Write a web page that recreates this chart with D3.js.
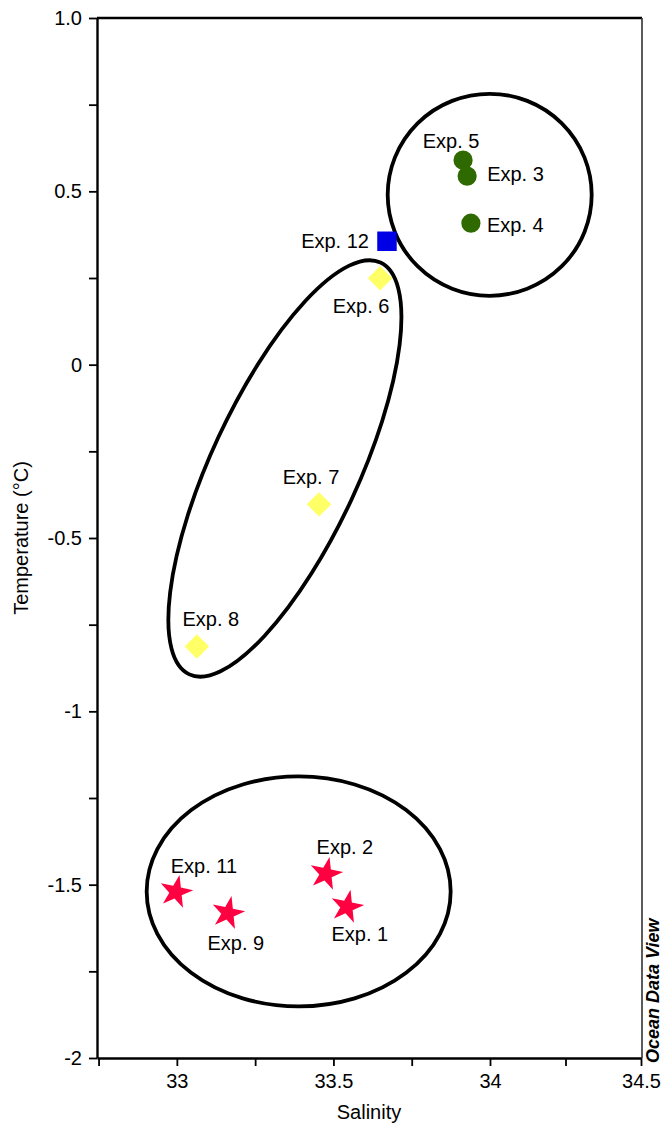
<!DOCTYPE html>
<html>
<head>
<meta charset="utf-8">
<script src="https://cdn.jsdelivr.net/npm/d3@7"></script>
<style>
  html, body { margin: 0; padding: 0; background: #fff; }
  svg { display: block; }
  text { font-family: "Liberation Sans", Arial, sans-serif; }
</style>
</head>
<body>
<svg id="chart" width="665" height="1127"></svg>
<script>
// ---- data ----
const expNames    = ["Exp. 1", "Exp. 2", "Exp. 3", "Exp. 4", "Exp. 5", "Exp. 6", "Exp. 7", "Exp. 8", "Exp. 9", "Exp. 11", "Exp. 12"];
const salinity    = [33.543, 33.476, 33.927, 33.939, 33.914, 33.649, 33.454, 33.064, 33.163, 32.997, 33.671];
const temperature = [-1.564, -1.469, 0.544, 0.408, 0.590, 0.249, -0.403, -0.813, -1.582, -1.521, 0.356];
const markerType  = ["star", "star", "circle", "circle", "circle", "diamond", "diamond", "diamond", "star", "star", "square"];

const xTickValues = [32.75, 33, 33.25, 33.5, 33.75, 34, 34.25, 34.5];
const xTickLabels = ["", "33", "", "33.5", "", "34", "", "34.5"];
const yTickValues = [-2, -1.75, -1.5, -1.25, -1, -0.75, -0.5, -0.25, 0, 0.25, 0.5, 0.75, 1];
const yTickLabels = ["-2", "", "-1.5", "", "-1", "", "-0.5", "", "0", "", "0.5", "", "1.0"];

// group ellipses (centres in data units)
const ellipseCenterSal  = [33.999, 33.345, 33.389];
const ellipseCenterTemp = [0.490, -0.2995, -1.5195];

// ---- layout / style ----
const ellipseShape = [ {rx: 102, ry: 101, rot: 0}, {rx: 227, ry: 73.5, rot: -65.1}, {rx: 152, ry: 115, rot: 0} ];
const colors = { star: "#ff0040", circle: "#2f6a00", diamond: "#ffff66", square: "#0000e6" };
// label placement relative to marker: [dx, dy, anchor]
const labelPlace = {
  "Exp. 1": [13, 34, "middle"], "Exp. 2": [19, -20, "middle"], "Exp. 3": [20, 5, "start"],
  "Exp. 4": [16, 9, "start"], "Exp. 5": [-12, -12, "middle"], "Exp. 6": [-19, 35, "middle"],
  "Exp. 7": [-8, -20, "middle"], "Exp. 8": [14, -21, "middle"], "Exp. 9": [8, 37, "middle"],
  "Exp. 11": [28, -19, "middle"], "Exp. 12": [-18, 7, "end"]
};

const svg = d3.select("#chart");
const mLeft = 97, mTop = 18, mRight = 642, mBottom = 1058;

const x = d3.scaleLinear().domain([32.745, 34, 34.5]).range([mLeft, 490, 641]);
const y = d3.scaleLinear().domain([-2, 1]).range([mBottom, mTop]);

// frame: top & right
svg.append("line").attr("x1", mLeft).attr("x2", mRight).attr("y1", mTop).attr("y2", mTop)
  .attr("stroke", "#000").attr("stroke-width", 2.4);
svg.append("line").attr("x1", mRight).attr("x2", mRight).attr("y1", mTop).attr("y2", mBottom)
  .attr("stroke", "#333").attr("stroke-width", 1.6);

// axes
const fontSize = 20;
const yAxis = d3.axisLeft(y).tickValues(yTickValues)
  .tickFormat((d, i) => yTickLabels[i]).tickSize(8).tickPadding(7).tickSizeOuter(0);
const gy = svg.append("g").attr("transform", `translate(${mLeft},0)`).call(yAxis);
gy.select(".domain").attr("stroke", "#000").attr("stroke-width", 2.4);
gy.selectAll(".tick line").attr("stroke", "#000").attr("stroke-width", 1.8);
gy.selectAll(".tick text").attr("font-size", fontSize).attr("fill", "#000")
  .attr("font-family", "Liberation Sans, Arial, sans-serif");

const xAxis = d3.axisBottom(x).tickValues(xTickValues)
  .tickFormat((d, i) => xTickLabels[i]).tickSize(8).tickPadding(8).tickSizeOuter(0);
const gx = svg.append("g").attr("transform", `translate(0,${mBottom})`).call(xAxis);
gx.select(".domain").attr("stroke", "#000").attr("stroke-width", 2.4);
gx.selectAll(".tick line").attr("stroke", "#000").attr("stroke-width", 1.8);
gx.selectAll(".tick text").attr("font-size", fontSize).attr("fill", "#000")
  .attr("font-family", "Liberation Sans, Arial, sans-serif");

// axis titles
svg.append("text").attr("x", 369).attr("y", 1119).attr("text-anchor", "middle")
  .attr("font-size", fontSize).text("Salinity");
svg.append("text").attr("transform", `translate(28,538) rotate(-90)`).attr("text-anchor", "middle")
  .attr("font-size", fontSize).text("Temperature (°C)");

// ellipses
ellipseCenterSal.forEach((s, i) => {
  const e = ellipseShape[i];
  svg.append("ellipse")
    .attr("transform", `translate(${x(s)},${y(ellipseCenterTemp[i])}) rotate(${e.rot})`)
    .attr("rx", e.rx).attr("ry", e.ry)
    .attr("fill", "none").attr("stroke", "#000").attr("stroke-width", 3.8);
});

// markers
const pts = expNames.map((n, i) => ({ name: n, s: salinity[i], t: temperature[i], type: markerType[i] }));
const symbolFor = { star: d3.symbolStar, circle: d3.symbolCircle, diamond: d3.symbolSquare, square: d3.symbolSquare };
const sizeFor = { star: 340, circle: 290, diamond: 300, square: 380 };
const rotFor = { star: 12, circle: 0, diamond: 45, square: 0 };

svg.append("g").selectAll("path").data(pts).join("path")
  .attr("transform", d => `translate(${x(d.s)},${y(d.t)}) rotate(${rotFor[d.type]})`)
  .attr("d", d => d3.symbol().type(symbolFor[d.type]).size(sizeFor[d.type])())
  .attr("fill", d => colors[d.type]);

// labels
svg.append("g").selectAll("text").data(pts).join("text")
  .attr("x", d => x(d.s) + labelPlace[d.name][0])
  .attr("y", d => y(d.t) + labelPlace[d.name][1])
  .attr("text-anchor", d => labelPlace[d.name][2])
  .attr("font-size", fontSize).attr("fill", "#000")
  .text(d => d.name);

// watermark
svg.append("text").attr("transform", "translate(659,1063) rotate(-90)")
  .attr("font-size", 18).attr("font-weight", "bold").attr("font-style", "italic")
  .attr("fill", "#000").text("Ocean Data View");
</script>
</body>
</html>
